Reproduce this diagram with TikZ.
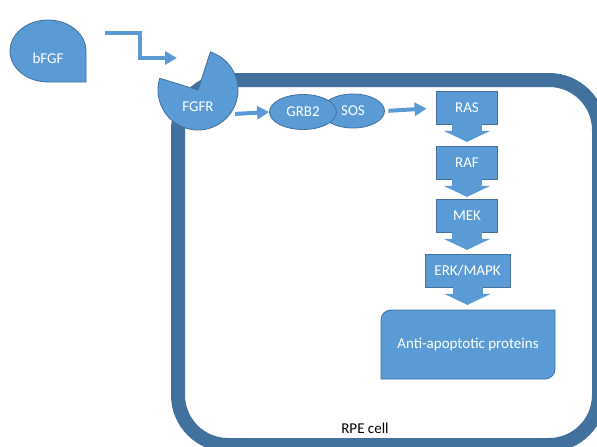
\documentclass[tikz,border=0pt]{standalone}
\usepackage{fontspec}
\setmainfont{Carlito}
\usetikzlibrary{arrows.meta,shapes.geometric}

\definecolor{officeblue}{HTML}{5B9BD5}
\definecolor{officeline}{HTML}{41719C}

\begin{document}
\begin{tikzpicture}[
		x=1pt, y=-1pt,
		every node/.style={font=\fontsize{15}{18}\selectfont, text=white, inner sep=0pt},
		blob/.style={fill=officeblue, draw=officeline, line width=0.8pt},
		box/.style={rectangle, blob, minimum height=33pt},
		pathway/.style={officeblue, line width=4pt, -{Triangle[length=12pt, width=13pt]}},
		downarrow/.style={officeblue, line width=30pt, -{Triangle[length=11pt, width=46pt]}}
	]
  \useasboundingbox (0,0) rectangle (597,447);
  \node (cell) [rectangle, draw=officeline, line width=14pt, rounded corners=50pt, minimum width=421pt, minimum height=365pt] at (388.5,262.5) {};
  \node (rpe) [text=black] at (365,428) {RPE cell};

  % ligand and receptor
  \filldraw[blob] (86,51) arc[start angle=0, end angle=-270, x radius=38, y radius=31] -- (86,82) -- cycle;
  \node (bfgf) [minimum width=76pt, minimum height=62pt, label={[yshift=-7pt]center:bFGF}] at (48,51) {};
  \filldraw[blob] (198,90) -- ++(-163:40) arc[start angle=-163, end angle=-432, radius=40] -- cycle;
  \node (fgfr) [circle, minimum size=80pt, label={[yshift=-17pt]center:FGFR}] at (198,90) {};
  \coordinate (ligand) at (105,33);
  \coordinate (dock) at (177,58);
  \draw[pathway] (ligand) -- ++(35,0) |- (dock);

  % adaptor complex
  \node (sos) [ellipse, blob, minimum width=63pt, minimum height=34pt] at (353,111) {SOS};
  \node (grb2) [ellipse, blob, minimum width=67pt, minimum height=35pt] at (303,112) {GRB2};
  \draw[pathway, shorten <=5pt] (fgfr.-37) -- (grb2.west);

  % kinase cascade
  \node (ras) [box, minimum width=61pt] at (467,108) {RAS};
  \node (raf) [box, minimum width=61pt] at (467,163) {RAF};
  \node (mek) [box, minimum width=61pt] at (467,216) {MEK};
  \node (erk) [box, minimum width=85pt] at (467.5,271) {ERK/MAPK};
  \draw[pathway, shorten <=3.5pt, shorten >=9.5pt] (sos.east) -- (ras.west);
  \draw[downarrow] ([yshift=1pt]ras.south) -- ++(0,18);
  \draw[downarrow] ([yshift=1pt]raf.south) -- ++(0,18);
  \draw[downarrow] ([yshift=1pt]mek.south) -- ++(0,18);
  \draw[downarrow] ([yshift=1pt]erk.south) -- ++(0,18);

  \filldraw[blob] (381,379) -- (381,320) arc[start angle=180, end angle=270, radius=10] -- (555,310) -- (555,369) arc[start angle=0, end angle=90, radius=10] -- cycle;
  \node (anti) [minimum width=174pt, minimum height=69pt] at (468,344.5) {Anti-apoptotic proteins};
\end{tikzpicture}
\end{document}
